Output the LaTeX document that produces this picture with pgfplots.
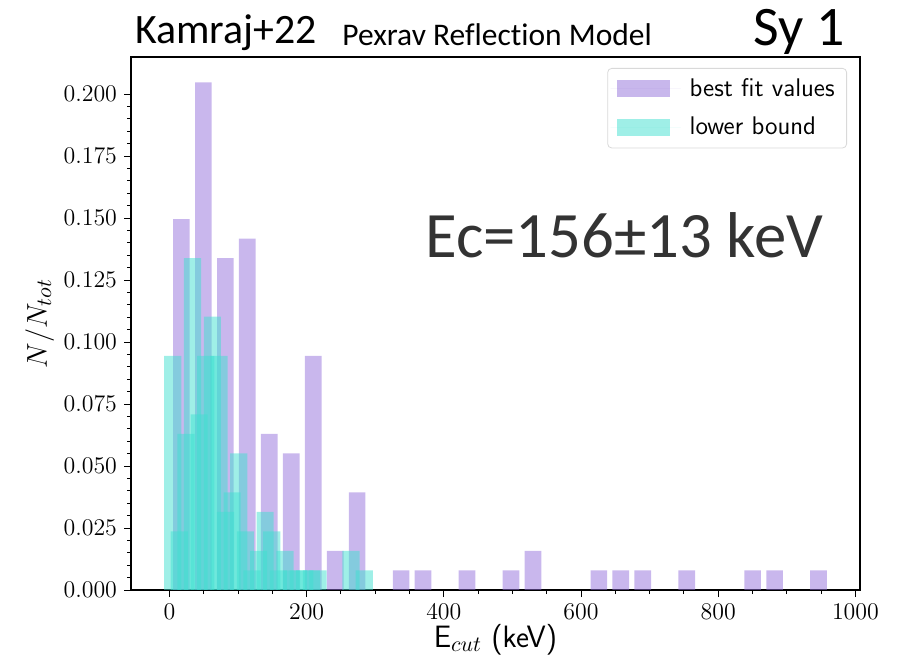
\documentclass[border=0pt]{standalone}
\usepackage{pgfplots}
\pgfplotsset{compat=1.18}
\usepackage{fontspec}
\newfontfamily\titlefont[Ligatures=NoCommon]{Carlito}
\definecolor{bfcol}{RGB}{147,112,219}
\definecolor{lbcol}{RGB}{64,224,208}
\definecolor{ectext}{RGB}{51,51,51}
\begin{document}
\begin{tikzpicture}
\path[use as bounding box] (0,0) rectangle (450bp,330bp);
\begin{axis}[
  at={(65.5bp,35bp)}, anchor=south west,
  scale only axis, width=364.5bp, height=266.5bp,
  xmin=-56.1, xmax=1006.7, ymin=0, ymax=0.215,
  xtick={0,200,400,600,800,1000},
  minor x tick num=3,
  ytick={0,0.025,0.05,0.075,0.1,0.125,0.15,0.175,0.2},
  minor y tick num=4,
  tick pos=left, tick align=outside,
  major tick length=3.5bp, minor tick length=2bp,
  tick style={black, line width=0.5bp},
  axis line style={line width=0.6bp},
  xticklabel style={/pgf/number format/1000 sep={}},
  yticklabel style={/pgf/number format/.cd, fixed, fixed zerofill, precision=3},
  scaled y ticks=false,
  ticklabel style={font=\fontsize{12.4}{14}\selectfont},
  xlabel={\textsf{E}$_{cut}$ \textsf{(keV)}},
  ylabel={$N/N_{tot}$},
  xlabel style={font=\fontsize{15.5}{17}\selectfont, yshift=4.5bp},
  ylabel style={font=\fontsize{15}{17}\selectfont, yshift=-2bp},
  legend cell align=left,
  legend style={at={(1,1)}, anchor=north east, xshift=-6.5bp, yshift=-5.5bp,
    font=\sffamily\fontsize{12.8}{15}\selectfont, draw=black!15, rounded corners=2bp,
    row sep=5bp, inner xsep=1.5bp, inner ysep=3bp,
    nodes={inner xsep=4.5bp}},
  legend image code/.code={\fill[#1, sharp corners] (0bp,-4.25bp) rectangle (26.5bp,4.25bp);
    \path (-3bp,0bp) -- (32bp,0bp);},
]
\addplot[ybar, bar width=24.3, bar shift=0pt, fill=bfcol, fill opacity=0.5, draw=none] coordinates {
(17.4,0.149606) (49.4,0.204724) (81.5,0.133858) (113.5,0.141732) (145.5,0.062992)
(177.6,0.055118) (209.6,0.094488) (241.6,0.015748) (273.6,0.039370)
(337.7,0.007874) (369.7,0.007874) (433.8,0.007874) (497.9,0.007874) (529.9,0.015748)
(626.0,0.007874) (658.0,0.007874) (690.0,0.007874) (754.1,0.007874)
(850.2,0.007874) (882.2,0.007874) (946.3,0.007874)
};
\addlegendentry{best fit values}
\addplot[ybar, bar width=25, bar shift=0pt, fill=lbcol, fill opacity=0.5, draw=none] coordinates {
(4.7,0.094488) (33.6,0.133858) (62.5,0.110236) (91.4,0.039370) (120.3,0.007874)
(149.2,0.023622) (178.0,0.007874) (206.9,0.007874) (264.7,0.015748)
};
\addlegendentry{lower bound}
\addplot[forget plot, ybar, bar width=25, bar shift=0pt, fill=lbcol, fill opacity=0.5, draw=none] coordinates {
(14.3,0.023622) (43.2,0.070866) (72.1,0.094488) (101.0,0.055118) (129.9,0.015748)
(158.8,0.007874) (187.7,0.007874) (216.6,0.007874)
};
\addplot[forget plot, ybar, bar width=25, bar shift=0pt, fill=lbcol, fill opacity=0.5, draw=none] coordinates {
(24.0,0.062992) (52.9,0.094488) (81.7,0.031496) (110.6,0.023622) (139.5,0.031496)
(168.4,0.015748) (197.3,0.007874) (284.0,0.007874)
};
\end{axis}
\node[anchor=base west, inner sep=0pt, font=\titlefont\fontsize{21}{24}\selectfont] at (67.5bp,308bp) {Kamraj+22};
\node[anchor=base west, inner sep=0pt, font=\titlefont\fontsize{15.8}{18}\selectfont] at (171bp,307bp) {Pexrav Reflection Model};
\node[anchor=base east, inner sep=0pt, font=\titlefont\fontsize{28}{32}\selectfont] at (422.5bp,307bp) {Sy 1};
\node[anchor=base west, inner sep=0pt, text=ectext, font=\titlefont\fontsize{32.5}{36}\selectfont] at (212.5bp,201bp) {Ec=156±13 keV};
\end{tikzpicture}
\end{document}
